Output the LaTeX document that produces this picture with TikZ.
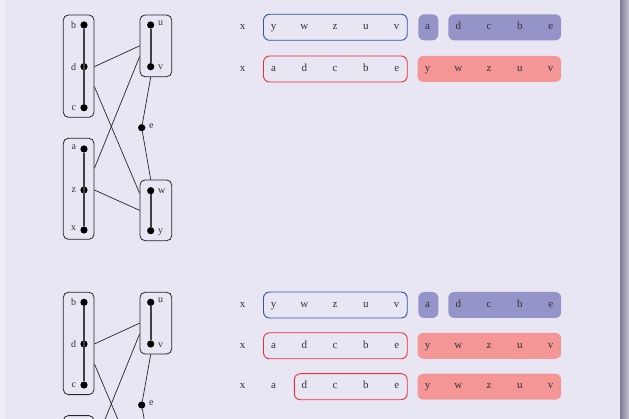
\documentclass[tikz,border=0pt]{standalone}
\usepackage{fontspec}
\setmainfont{Liberation Serif}
\usetikzlibrary{calc}
\definecolor{bgc}{HTML}{E8E6F3}
\definecolor{stripc}{HTML}{EFEEF7}
\definecolor{bluel}{HTML}{3454AA}
\definecolor{bluef}{HTML}{9494C8}
\definecolor{redl}{HTML}{E83038}
\definecolor{redf}{HTML}{F59696}
\definecolor{bard}{HTML}{7C7C8E}
\definecolor{barl}{HTML}{C4C4D6}
\tikzset{
  gbox/.style={draw=black!85, line width=0.8pt, rounded corners=5pt, inner sep=0pt},
  dot/.style={circle, fill=black, inner sep=0pt, minimum size=7.2pt},
  glab/.style={font=\fontsize{10}{12}\selectfont, text=black!80, inner sep=1pt},
  spine/.style={line width=1.8pt, draw=black!75},
  gedge/.style={line width=0.7pt, draw=black!85},
  seq/.style={font=\fontsize{11}{13}\selectfont, text=black!80, inner sep=0pt, text height=7pt, text depth=2.5pt},
  obox/.style={draw=#1, line width=0.9pt, rounded corners=6pt, minimum height=26pt, inner sep=0pt},
  fbox/.style={fill=#1, rounded corners=6pt, minimum height=26pt, inner sep=0pt},
  lowlab/.style={label={#1}},
}
\newcommand{\drawgraph}[2]{%
\begin{scope}[shift={(0,#2)}]
  \node[gbox, minimum width=30.7pt, minimum height=102.3pt] (#1L1) at (78.65,66.15) {};
  \node[gbox, minimum width=30.7pt, minimum height=101pt] (#1L2) at (78.65,188.8) {};
  \node[gbox, minimum width=31.7pt, minimum height=61.7pt] (#1U1) at (155.85,45.85) {};
  \node[gbox, minimum width=31.7pt, minimum height=60.7pt] (#1W1) at (155.85,210.35) {};
  \node[dot, label={[glab, label distance=3pt]left:b}] (#1b) at (84,25) {};
  \node[dot, label={[glab, label distance=3pt]left:d}] (#1d) at (84,66.7) {};
  \node[dot, label={[glab, label distance=3pt]left:c}] (#1c) at (84,107.7) {};
  \node[dot, lowlab={[glab, label distance=3pt, yshift=2pt]left:a}] (#1a) at (84,149) {};
  \node[dot, lowlab={[glab, label distance=3pt]left:z}] (#1z) at (84,190) {};
  \node[dot, lowlab={[glab, label distance=3pt, yshift=2pt]left:x}] (#1x) at (84,230) {};
  \node[dot, label={[glab, label distance=2.5pt, yshift=2pt]right:u}] (#1u) at (150.7,25) {};
  \node[dot, label={[glab, label distance=2.5pt, yshift=-1pt]right:v}] (#1v) at (150.7,66.7) {};
  \node[dot, lowlab={[glab, label distance=2.5pt, yshift=-1pt]right:w}] (#1w) at (150.7,190.7) {};
  \node[dot, lowlab={[glab, label distance=2.5pt, yshift=-2pt]right:y}] (#1y) at (150.7,230.7) {};
  \node[dot, label={[glab, label distance=2.5pt, yshift=2pt]right:e}] (#1e) at (141.7,127.7) {};
  \draw[spine] (#1b) -- (#1c);
  \draw[spine] (#1a) -- (#1x);
  \draw[spine] (#1u) -- (#1v);
  \draw[spine] (#1w) -- (#1y);
  \draw[gedge] (#1L1.east |- #1d) -- (#1U1.west);
  \draw[gedge] ([yshift=20.5pt]#1L2.east) -- ([yshift=-10.8pt]#1U1.west);
  \draw[gedge] ([yshift=-20.5pt]#1L1.east) -- ([yshift=17pt]#1W1.west);
  \draw[gedge] (#1L2.east |- #1z) -- (#1W1.west);
  \draw[gedge] (#1U1.south -| #1v) -- (#1e) -- (#1W1.north -| #1w);
\end{scope}}
\newcommand{\seqrow}[3]{%
  \foreach \t [count=\k from 0] in {#3}
    \node[seq] (#1-\k) at ({242.7+30.8*\k},#2) {\t};}
\begin{document}
\begin{tikzpicture}[x=1pt, y=-1pt]
\useasboundingbox (0,0) rectangle (629,419);
\clip (0,0) rectangle (629,419);
\fill[bgc] (0,0) rectangle (629,419);
\fill[stripc] (0,0) rectangle (4.5,419);
\shade[left color=bard, right color=barl] (620,0) rectangle (629,419);

\drawgraph{g}{0}
\begin{scope}[lowlab/.style={}]
\drawgraph{h}{277.3}
\end{scope}

% row 1
\node[obox=bluel, minimum width=143.7pt] (b1o) at (335.35,27.3) {};
\node[fbox=bluef, minimum width=20pt] (b1a) at (428.3,27.3) {};
\node[fbox=bluef, minimum width=112.9pt] (b1f) at (504.75,27.3) {};
\seqrow{r1}{27.3}{x,y,w,z,u,v,a,d,c,b,e}
% row 2
\node[obox=redl, minimum width=143.7pt] (b2o) at (335.35,69) {};
\node[fbox=redf, minimum width=143.7pt] (b2f) at (489.35,69) {};
\seqrow{r2}{69}{x,a,d,c,b,e,y,w,z,u,v}
% row 3
\node[obox=bluel, minimum width=143.7pt] (b3o) at (335.35,305) {};
\node[fbox=bluef, minimum width=20pt] (b3a) at (428.3,305) {};
\node[fbox=bluef, minimum width=112.9pt] (b3f) at (504.75,305) {};
\seqrow{r3}{305}{x,y,w,z,u,v,a,d,c,b,e}
% row 4
\node[obox=redl, minimum width=143.7pt] (b4o) at (335.35,345.8) {};
\node[fbox=redf, minimum width=143.7pt] (b4f) at (489.35,345.8) {};
\seqrow{r4}{345.8}{x,a,d,c,b,e,y,w,z,u,v}
% row 5
\node[obox=redl, minimum width=112.9pt] (b5o) at (350.75,386.7) {};
\node[fbox=redf, minimum width=143.7pt] (b5f) at (489.35,386.7) {};
\seqrow{r5}{386.7}{x,a,d,c,b,e,y,w,z,u,v}
\end{tikzpicture}
\end{document}
